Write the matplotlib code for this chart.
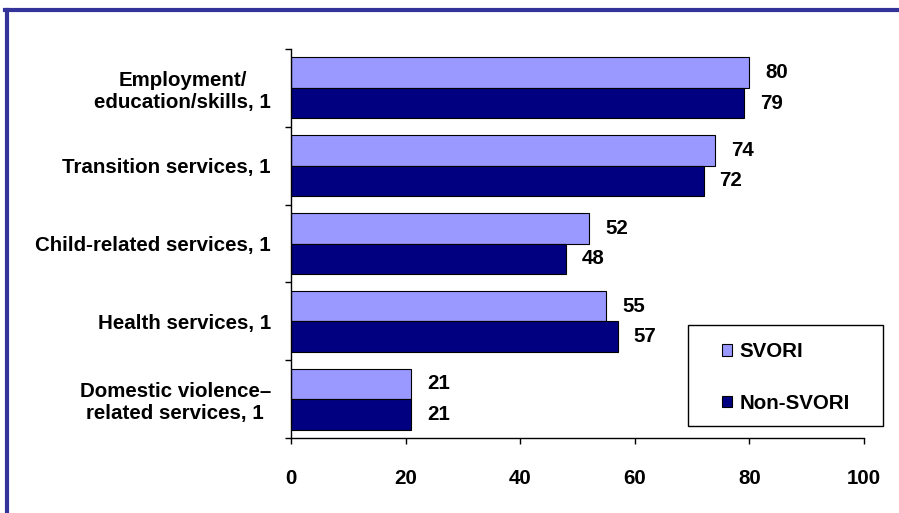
import numpy as np
import matplotlib
matplotlib.use("Agg")
import matplotlib.pyplot as plt
from matplotlib.patches import Rectangle
from matplotlib.lines import Line2D

plt.rcParams['font.family'] = ['Liberation Sans', 'DejaVu Sans']
plt.rcParams['font.weight'] = 'bold'

# service categories (top to bottom) and percentages per group
categories = [
    "Employment/\neducation/skills, 1",
    "Transition services, 1",
    "Child-related services, 1",
    "Health services, 1",
    "Domestic violence\u2013\nrelated services, 1",
]
svori = [80, 74, 52, 55, 21]
non_svori = [79, 72, 48, 57, 21]
x_ticks = [0, 20, 40, 60, 80, 100]

FS = 14.8
W, H = 899, 513
fig = plt.figure(figsize=(W / 100, H / 100), dpi=100)
ax = fig.add_axes([291 / W, 1 - 438 / H, (864 - 291) / W, (438 - 49) / H])

y = np.arange(len(categories))
h = 0.392
b1 = ax.barh(y - h / 2, svori, height=h, color='#9999FF', edgecolor='black', linewidth=0.8)
b2 = ax.barh(y + h / 2, non_svori, height=h, color='#000080', edgecolor='black', linewidth=0.8)

for bars, vals in ((b1, svori), (b2, non_svori)):
    for bar, v in zip(bars, vals):
        ax.annotate(str(v), (v, bar.get_y() + bar.get_height() / 2),
                    xytext=(11.5, 0), textcoords='offset points',
                    ha='left', va='center', fontsize=FS, fontweight='bold')

ax.set_xlim(0, 100)
ax.set_ylim(len(categories) - 0.5, -0.5)
ax.set_xticks(x_ticks)
ax.set_xticklabels([str(t) for t in x_ticks])
ax.set_yticks(y)
ax.set_yticklabels(categories)
ax.set_yticks(np.arange(len(categories) + 1) - 0.5, minor=True)
for lbl in ax.get_yticklabels():
    lbl.set_multialignment('center')

ax.tick_params(axis='y', which='major', length=0, pad=14.5, labelsize=FS)
ax.tick_params(axis='y', which='minor', length=4, width=1, direction='out')
ax.tick_params(axis='x', length=4, width=1, direction='out', pad=18, labelsize=FS)

for s in ('top', 'right'):
    ax.spines[s].set_visible(False)
for s in ('left', 'bottom'):
    ax.spines[s].set_linewidth(1)
    ax.spines[s].set_color('black')

# legend box drawn separately so its size can be set exactly
fig.patches.append(Rectangle((688 / W, 1 - 426 / H), (883 - 688) / W, (426 - 325) / H,
                             transform=fig.transFigure, fill=False,
                             edgecolor='black', linewidth=1))
fig.legend([b1, b2], ["SVORI", "Non-SVORI"], loc='upper left',
           bbox_to_anchor=(722 / W, 1 - 342 / H), frameon=False,
           borderpad=0, borderaxespad=0, handlelength=0.5, handleheight=0.5,
           handletextpad=0.35, labelspacing=1.6, prop={'size': FS, 'weight': 'bold'})

# blue frame along the left and top edges
fy = 1 - 10 / H
fx = 7 / W
fig.lines.append(Line2D([fx, fx], [0, fy], transform=fig.transFigure, color='#333399', linewidth=3))
fig.lines.append(Line2D([fx - 1.5 / W, 1], [fy, fy], transform=fig.transFigure, color='#333399', linewidth=3))

fig.savefig("out.png", dpi=100)
